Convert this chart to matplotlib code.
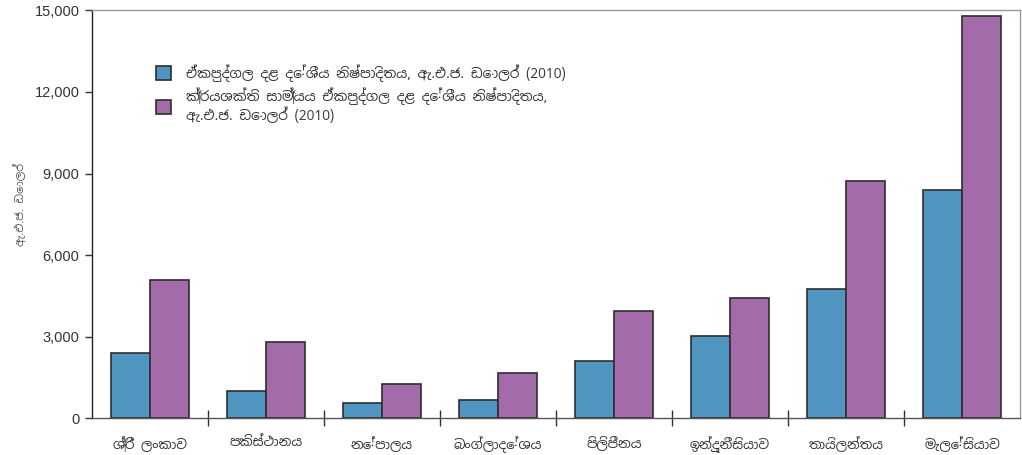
# Per capita GDP vs PPP per capita GDP, selected Asian countries (2010)
import numpy as np
import matplotlib.pyplot as plt
from matplotlib import font_manager

countries = ["ශ්‍රී ලංකාව", "පකිස්ථානය", "නේපාලය", "බංග්ලාදේශය",
             "පිලිපීනය", "ඉන්දුනීසියාව", "තායිලන්තය", "මැලේසියාව"]
gdpPerCapita = [2390, 1000, 575, 675, 2120, 3010, 4740, 8400]
pppPerCapita = [5085, 2790, 1250, 1650, 3930, 4420, 8735, 14790]

label1 = "ඒකපුද්ගල දළ දේශීය නිෂ්පාදිතය, ඇ.එ.ජ. ඩොලර් (2010)"
label2 = "ක්‍රයශක්ති සාම්‍යය ඒකපුද්ගල දළ දේශීය නිෂ්පාදිතය,\nඇ.එ.ජ. ඩොලර් (2010)"
yLabel = "ඇ.එ.ජ. ඩොලර්"

# pick a font that can draw Sinhala, if there is one
sinhala = [f.name for f in font_manager.fontManager.ttflist if "Sinhala" in f.name]
textFonts = sinhala[:1] + ["Noto Sans", "DejaVu Sans"]
numFonts = ["Liberation Sans", "DejaVu Sans"]

blue = "#4f95bf"
purple = "#a46bab"
edge = "#2e2e2e"
textColor = "#333333"

fig = plt.figure(figsize=(10.22, 4.55), dpi=100)
ax = fig.add_axes([0.090, 0.0806, 0.908, 0.8967])

x = np.arange(len(countries))
w = 0.333
ax.bar(x - w / 2, gdpPerCapita, w, color=blue, edgecolor=edge, linewidth=1.2, label=label1)
ax.bar(x + w / 2, pppPerCapita, w, color=purple, edgecolor=edge, linewidth=1.2, label=label2)

ax.set_xlim(-0.5, len(countries) - 0.5)
ax.set_ylim(0, 15000)

# y axis
yt = np.arange(0, 15001, 3000)
ax.set_yticks(yt)
ax.set_yticklabels([f"{v:,}" for v in yt], family=numFonts, fontsize=10.5, color=textColor)
ax.tick_params(axis="y", direction="out", length=5, width=1, color="#333333", pad=4)
ax.set_ylabel(yLabel, family=textFonts, fontsize=8, color="#555555")
ax.yaxis.set_label_coords(-0.069, 0.525)

# x axis: tick marks between groups, labels at group centres
ax.set_xticks(np.arange(0.5, len(countries) - 0.5, 1))
ax.set_xticklabels([])
ax.tick_params(axis="x", which="major", direction="inout", length=12, width=1, color="#333333")
ax.set_xticks(x, minor=True)
ax.set_xticklabels(countries, minor=True, family=textFonts, fontsize=9.5, color=textColor)
ax.tick_params(axis="x", which="minor", length=0, pad=13)

ax.spines["left"].set_color("#222222")
ax.spines["bottom"].set_color("#555555")
ax.spines["top"].set_color("#999999")
ax.spines["right"].set_color("#999999")
for s in ax.spines.values():
    s.set_linewidth(1)

leg = ax.legend(loc="upper left", bbox_to_anchor=(0.062, 0.885), frameon=False,
                prop={"family": textFonts, "size": 9.8}, handlelength=1.1, handleheight=1.1,
                handletextpad=1.1, labelspacing=0.45, borderpad=0)
for t in leg.get_texts():
    t.set_color(textColor)

plt.savefig("out.png", dpi=100)
